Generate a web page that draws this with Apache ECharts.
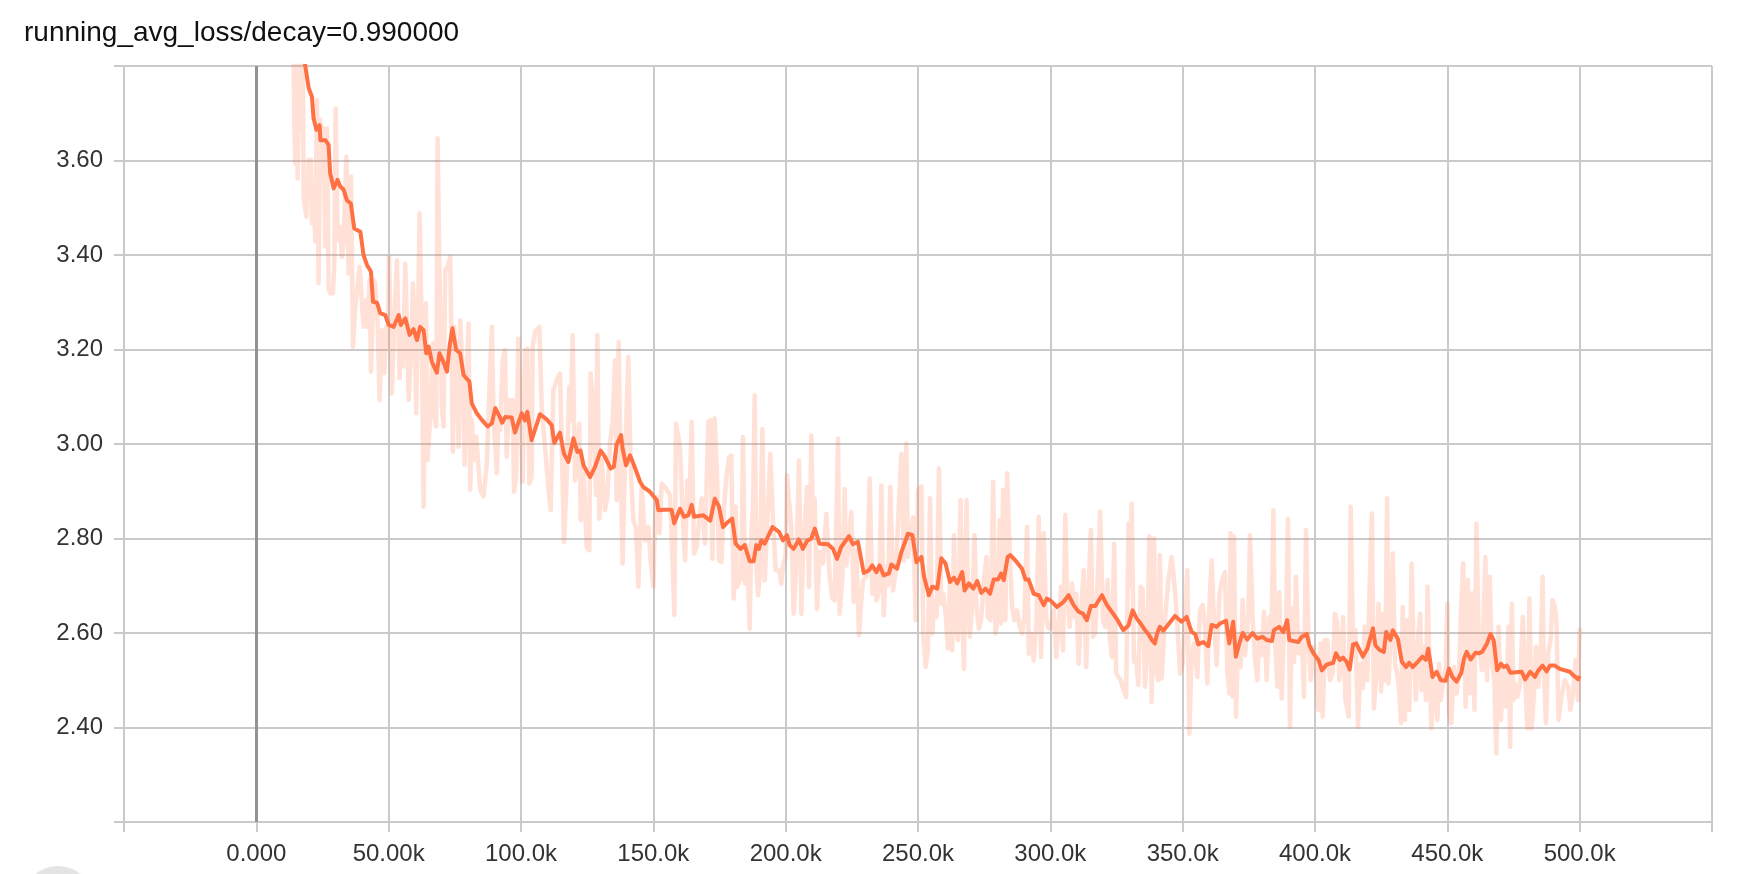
<!DOCTYPE html>
<html><head><meta charset="utf-8">
<script src="https://cdn.jsdelivr.net/npm/echarts@6/dist/echarts.min.js"></script>
<style>html,body{margin:0;padding:0;background:#fff}#c{width:1738px;height:874px}</style>
</head><body><div id="c"></div>
<script>
const chartTitle = 'running_avg_loss/decay=0.990000';
const yTicks = [2.2, 2.4, 2.6, 2.8, 3.0, 3.2, 3.4, 3.6, 3.8];
const xTicksK = [-50, 0, 50, 100, 150, 200, 250, 300, 350, 400, 450, 500, 550];

// smoothed curve: [step (thousands), loss]
const smoothLoss = [
[14,3.98],[16,3.90],[17.5,3.84],[18.5,3.80],[19.8,3.753],[21.0,3.735],[21.6,3.69],[22.7,3.665],[23.9,3.675],[24.2,3.643],[26.1,3.643],[27.3,3.633],[27.9,3.573],[29.2,3.541],[30.7,3.559],[31.7,3.545],[33.0,3.538],[34.2,3.516],[35.7,3.509],[37.0,3.456],[39.3,3.449],[40.5,3.40],[41.8,3.379],[43.3,3.365],[44.1,3.301],[45.6,3.299],[46.8,3.277],[48.7,3.273],[50.0,3.252],[51.9,3.248],[53.8,3.273],[54.6,3.252],[56.3,3.266],[57.9,3.231],[59.4,3.243],[60.7,3.22],[61.9,3.248],[63.2,3.241],[64.2,3.192],[65.1,3.206],[66.3,3.174],[68.2,3.151],[69.2,3.192],[70.7,3.174],[72.0,3.153],[73.0,3.206],[74.1,3.245],[75.5,3.199],[77.0,3.192],[78.3,3.146],[80.5,3.132],[81.4,3.086],[83.3,3.065],[85.2,3.051],[87.4,3.037],[89.0,3.044],[90.3,3.076],[91.9,3.058],[92.9,3.045],
[94.0,3.057],[96.5,3.056],[97.7,3.024],[100.3,3.065],[101.5,3.05],[102.4,3.068],[104.0,3.008],[107.2,3.063],[109.7,3.052],[111.6,3.04],[112.6,3.002],[114.7,3.024],[116.2,2.98],[117.9,2.962],[119.8,3.012],[121.3,2.983],[122.5,2.986],[123.6,2.955],[126.1,2.93],[128.0,2.952],[130.1,2.986],[131.7,2.973],[133.9,2.948],[135.1,2.952],[136.1,2.998],[137.8,3.019],[138.4,2.99],[139.7,2.955],[141.2,2.976],[142.7,2.955],[145.0,2.92],[146.2,2.909],[148.7,2.899],[151.3,2.881],[151.9,2.86],[153.8,2.861],[156.9,2.861],[157.9,2.832],[160.1,2.863],[161.6,2.846],[163.2,2.849],[164.5,2.871],[165.4,2.846],[168.9,2.849],
[171.5,2.838],[173.2,2.884],[174.8,2.868],[176.3,2.824],[178.2,2.835],[179.8,2.842],[181.1,2.789],[182.9,2.778],[184.5,2.786],[186.4,2.752],[187.9,2.752],[188.9,2.786],[189.9,2.778],[190.8,2.796],[192.1,2.789],[195.0,2.824],[197.5,2.814],[199.0,2.796],[200.5,2.807],[201.5,2.786],[203.0,2.778],[205.0,2.798],[206.5,2.778],[208.1,2.795],[209.7,2.8],[211.0,2.821],[212.8,2.789],[216.0,2.788],[217.9,2.778],[219.4,2.757],[221.0,2.782],[223.9,2.805],[225.4,2.788],[227.3,2.793],[229.5,2.727],[231.5,2.733],[232.7,2.743],[234.3,2.729],[235.5,2.743],[237.0,2.722],[239.0,2.726],[239.9,2.745],[242.1,2.736],[243.7,2.771],[246.2,2.81],[247.9,2.807],[249.4,2.75],
[251.3,2.761],[252.3,2.719],[254.1,2.68],[255.4,2.698],[257.3,2.694],[258.8,2.758],[260.4,2.747],[262.1,2.708],[263.6,2.717],[264.8,2.705],[266.7,2.729],[267.6,2.69],[269.2,2.705],[270.9,2.694],[272.4,2.71],[273.9,2.685],[275.5,2.694],[277.2,2.683],[278.6,2.713],[280.2,2.713],[281.4,2.726],[282.4,2.712],[283.9,2.761],[284.9,2.765],[287.2,2.751],[289.3,2.736],[290.6,2.713],[291.8,2.713],[293.7,2.683],[295.6,2.68],[297.5,2.659],[298.7,2.673],[300.0,2.669],[302.5,2.655],[305.0,2.666],[306.9,2.68],[308.8,2.659],[310.7,2.645],[312.3,2.641],[313.8,2.627],[315.3,2.657],[317.0,2.657],[319.5,2.68],[321.4,2.659],[323.2,2.645],[325.1,2.63],[327.6,2.606],[329.5,2.616],
[331.1,2.648],[332.6,2.631],[334.1,2.62],[335.8,2.606],[337.0,2.598],[338.3,2.586],[339.5,2.578],[340.4,2.6],[341.4,2.613],[342.7,2.605],[347.1,2.636],[349.6,2.624],[351.5,2.634],[353.4,2.602],[354.7,2.598],[355.9,2.576],[357.8,2.581],[359.7,2.572],[360.9,2.617],[362.8,2.613],[364.1,2.62],[366.4,2.626],[367.6,2.578],[369.1,2.624],[370.1,2.55],[371.4,2.578],[372.7,2.60],[374.4,2.586],[376.4,2.60],[378.2,2.588],[380.2,2.592],[381.7,2.585],[383.7,2.583],[384.5,2.606],[386.5,2.613],[388.0,2.602],[389.5,2.627],[390.3,2.585],[391.8,2.583],[393.7,2.581],[395.0,2.592],[396.9,2.598],[397.9,2.574],[399.4,2.557],[401.3,2.543],[402.6,2.521],[404.4,2.533],[406.9,2.537],[407.9,2.557],[409.4,2.543],
[410.6,2.548],[411.9,2.539],[413.1,2.523],[414.4,2.576],[415.6,2.578],[418.1,2.55],[419.8,2.567],[421.9,2.61],[422.8,2.574],[424.4,2.564],[426.0,2.56],[426.9,2.602],[428.5,2.585],[429.4,2.606],[431.3,2.588],[432.8,2.539],[434.4,2.528],[435.6,2.537],[436.9,2.528],[438.8,2.539],[440.6,2.55],[441.9,2.543],[442.8,2.567],[444.4,2.507],[446.0,2.518],[447.5,2.50],[449.4,2.499],[450.6,2.525],[451.9,2.507],[453.5,2.497],[455.3,2.516],[456.3,2.546],[457.3,2.56],[458.8,2.544],[460.6,2.558],[461.9,2.557],[463.1,2.56],[465.0,2.578],[466.3,2.598],[467.5,2.585],[468.8,2.521],[470.3,2.535],[471.3,2.528],[472.5,2.531],[473.8,2.516],[478.1,2.518],[479.4,2.502],[481.3,2.518],[483.1,2.507],[484.4,2.521],[486.0,2.531],[487.5,2.519],[488.8,2.531],[490.6,2.531],[492.5,2.524],[496.3,2.518],[497.5,2.511],[499.4,2.502],[500.0,2.509]
];

// raw values: [step (thousands), loss]
const rawLoss = [
[13.85,3.92],[14.35,3.679],[14.73,3.594],[15.10,3.85],[15.61,3.562],[16.36,3.82],[16.87,3.665],[17.62,3.81],[17.87,3.523],[18.88,3.481],[19.76,3.601],[20.64,3.601],[21.02,3.467],[21.65,3.516],[22.28,3.428],[22.91,3.728],[23.54,3.34],[24.17,3.686],[24.80,3.643],[25.43,3.668],[26.06,3.418],[26.69,3.668],[27.32,3.326],[27.94,3.319],[28.95,3.319],[29.46,3.382],[29.96,3.71],[30.71,3.432],[31.47,3.46],[32.35,3.396],[32.98,3.432],[33.99,3.608],[34.87,3.361],[35.75,3.566],[36.51,3.206],[37.39,3.291],[39.02,3.375],[39.90,3.298],[40.53,3.248],[41.54,3.305],[42.04,3.248],[42.80,3.347],[43.30,3.153],[44.31,3.347],[44.94,3.34],[45.82,3.255],[46.57,3.093],[47.46,3.241],[48.34,3.15],[49.09,3.248],[49.60,3.206],[50.10,3.396],[50.86,3.227],[51.23,3.107],[52.11,3.248],[53.12,3.389],[54.13,3.139],[54.63,3.262],[55.39,3.164],[56.27,3.382],[56.90,3.255],[57.53,3.093],[58.53,3.195],[59.16,3.34],[59.79,3.262],[60.42,3.065],[61.05,3.262],[61.68,3.488],[62.56,3.213],[63.19,2.867],[64.07,3.298],[64.70,2.966],[65.71,3.058],[66.72,3.213],[67.22,3.058],[67.97,3.037],[68.48,3.647],[69.23,3.354],[70.11,3.079],[70.74,3.037],[71.37,3.368],[72.25,3.375],[73.26,3.396],[74.27,2.984],[74.77,3.248],[75.53,3.185],[76.41,2.994],[77.04,3.262],[78.04,3.143],[78.67,2.956],[79.30,3.107],[80.19,3.255],[80.81,2.903],[81.44,3.051],[82.07,2.966],[83.08,3.016],[84.59,2.903],[85.85,2.889],[87.11,2.959],[88.12,3.128],[89.00,3.248],[89.63,3.058],[90.88,2.938],[91.51,3.065],
[92.07,3.029],[93.08,3.177],[93.96,3.199],[94.59,2.973],[95.59,3.093],[96.10,3.068],[96.85,3.093],[97.36,2.899],[98.11,2.93],[98.99,3.223],[99.88,3.064],[100.63,2.92],[101.51,3.199],[102.40,3.202],[103.15,2.916],[104.03,2.93],[104.41,3.206],[105.29,3.237],[106.93,3.248],[107.81,3.079],[109.07,2.994],[110.33,2.909],[111.21,2.86],[112.22,3.114],[113.48,3.135],[114.74,3.149],[116.25,2.793],[117.00,2.888],[118.26,3.121],[118.77,3.05],[119.52,3.23],[120.40,2.923],[121.29,2.966],[122.04,3.043],[122.55,2.839],[123.55,2.962],[124.81,2.782],[125.82,2.775],[126.32,3.149],[127.33,3.079],[128.34,2.892],[128.84,3.23],[129.60,2.842],[130.48,2.966],[131.74,2.86],[132.62,2.888],[133.63,3.001],[134.64,3.05],[135.52,3.177],[136.15,2.881],[136.90,3.216],[137.66,2.937],[138.41,2.747],[139.30,2.966],[140.56,3.184],[141.44,2.952],[142.44,2.839],[143.45,2.821],[144.33,2.698],[145.59,2.909],[146.85,2.796],[148.11,2.825],[148.99,2.754],[150.00,2.698],[150.63,2.839],[151.26,2.888],[152.27,2.811],[153.15,2.916],[154.41,2.909],[156.30,2.892],[157.30,2.747],[157.94,2.638],[158.57,3.043],[160.08,2.994],[161.08,2.846],[161.97,2.754],[162.85,2.923],[163.60,2.86],[164.48,3.047],[165.37,2.768],[166.37,2.782],[167.38,2.839],[168.26,2.885],[169.52,2.789],[170.78,3.047],
[171.54,3.050],[172.30,2.757],[173.18,3.054],[174.06,2.934],[174.81,2.754],[175.70,2.750],[176.58,2.852],[177.58,2.930],[178.59,2.972],[179.47,2.976],[180.36,2.673],[181.11,2.867],[181.62,2.697],[182.37,2.694],[183.25,2.718],[183.88,3.015],[184.64,2.704],[185.39,2.785],[186.40,2.609],[187.03,2.807],[187.66,2.867],[188.29,3.103],[188.92,2.740],[189.55,2.680],[190.18,2.718],[191.19,3.032],[192.07,2.711],[192.70,2.785],[194.21,2.979],[195.22,2.838],[196.22,2.733],[197.48,2.733],[198.37,2.704],[198.99,2.743],[200.00,2.764],[200.51,2.934],[201.26,2.881],[202.14,2.824],[203.03,2.641],[204.03,2.750],[205.04,2.965],[205.92,2.641],[206.55,2.768],[207.56,2.860],[208.06,2.909],[208.82,2.697],[209.70,3.018],[210.33,2.824],[210.96,2.884],[211.84,2.651],[212.85,2.771],[214.11,2.747],[215.37,2.852],[216.63,2.718],[217.63,2.673],[218.52,2.669],[219.78,3.011],[220.40,2.641],[221.41,2.718],[222.29,2.905],[222.92,2.743],[223.93,2.800],[224.81,2.856],[225.70,2.666],[226.70,2.775],[227.71,2.595],[228.59,2.669],[229.22,2.711],[230.73,2.722],[231.74,2.927],[232.75,2.683],[233.63,2.729],[234.26,2.669],[235.27,2.687],[236.15,2.912],[237.03,2.637],[237.79,2.740],[238.67,2.701],[239.55,2.909],[240.56,2.690],[241.56,2.729],[242.45,2.831],[243.70,2.979],[244.59,2.754],[245.59,3.001],[246.22,2.761],[247.11,2.803],[248.11,2.845],[249.12,2.627],[250.00,2.902],
[251.26,2.910],[252.01,2.592],[252.89,2.528],[253.77,2.563],[254.53,2.885],[255.41,2.599],[256.29,2.669],[257.04,2.634],[257.92,2.948],[258.80,2.662],[259.55,2.683],[260.43,2.641],[261.31,2.567],[262.06,2.712],[262.94,2.563],[263.57,2.807],[264.20,2.627],[265.08,2.585],[266.08,2.881],[266.71,2.655],[267.34,2.524],[268.35,2.881],[268.85,2.683],[269.60,2.592],[270.48,2.655],[271.36,2.807],[272.11,2.655],[272.99,2.609],[273.87,2.627],[274.88,2.712],[275.88,2.761],[276.39,2.634],[277.39,2.627],[278.40,2.920],[279.28,2.599],[280.16,2.634],[280.91,2.839],[281.41,2.620],[282.16,2.903],[283.04,2.627],[283.67,2.938],[284.68,2.768],[285.56,2.655],[286.44,2.627],[287.44,2.648],[288.45,2.613],[289.33,2.599],[290.21,2.634],[291.21,2.825],[291.84,2.556],[292.72,2.599],[293.72,2.542],[294.73,2.620],[295.61,2.846],[296.49,2.549],[297.49,2.811],[298.50,2.627],[299.38,2.609],[300.26,2.613],[301.26,2.648],[302.27,2.549],[303.15,2.613],[304.03,2.698],[304.78,2.563],[305.66,2.850],[306.29,2.691],[307.29,2.613],[308.17,2.705],[309.05,2.634],[309.80,2.683],[310.68,2.535],[311.56,2.634],[312.57,2.733],[313.57,2.528],[314.45,2.698],[315.33,2.818],[316.08,2.592],[316.97,2.599],[317.85,2.705],[318.85,2.857],[319.86,2.627],[320.74,2.613],[321.61,2.712],[322.37,2.599],[323.25,2.549],[324.12,2.789],[324.88,2.514],[325.76,2.507],[326.64,2.500],[327.64,2.478],[328.65,2.464],[329.53,2.832],
[330.10,2.698],[330.73,2.874],[331.61,2.539],[332.37,2.550],[333.25,2.490],[334.13,2.698],[334.88,2.691],[335.77,2.486],[336.65,2.571],[337.40,2.804],[338.28,2.454],[339.17,2.800],[339.92,2.518],[340.80,2.500],[341.43,2.765],[342.06,2.504],[343.32,2.627],[344.58,2.712],[345.84,2.761],[347.10,2.691],[347.98,2.620],[348.99,2.514],[350.00,2.535],[350.88,2.627],[351.76,2.733],[352.52,2.387],[353.40,2.550],[354.28,2.578],[355.54,2.507],[356.55,2.648],[357.55,2.659],[358.44,2.613],[359.32,2.493],[360.07,2.655],[360.95,2.754],[361.84,2.627],[362.84,2.532],[363.85,2.680],[364.73,2.708],[365.99,2.729],[366.87,2.521],[367.63,2.472],[368.13,2.811],[368.89,2.465],[369.39,2.804],[370.15,2.423],[371.03,2.595],[371.91,2.528],[372.67,2.670],[373.55,2.553],[374.81,2.634],[375.44,2.807],[376.44,2.631],[377.33,2.546],[378.21,2.500],[378.96,2.599],[379.85,2.553],[380.73,2.645],[381.73,2.500],[382.74,2.634],[383.62,2.606],[384.25,2.860],[385.01,2.571],[385.76,2.486],[386.52,2.687],[387.40,2.461],[388.28,2.613],[389.04,2.613],[389.79,2.842],[390.55,2.401],[391.31,2.652],[392.06,2.539],[392.82,2.719],[393.70,2.557],[394.96,2.599],[395.84,2.465],[396.60,2.818],[397.48,2.592],[398.36,2.500],[399.37,2.571],[400.37,2.518],[401.26,2.437],[402.14,2.578],[402.90,2.423],[403.78,2.585],[404.66,2.585],[405.66,2.500],[406.67,2.514],[407.55,2.641],[408.43,2.620],[409.19,2.500],
[410.00,2.543],[410.63,2.634],[411.50,2.458],[412.25,2.437],[412.75,2.423],[413.50,2.867],[414.38,2.571],[415.25,2.606],[416.25,2.401],[417.25,2.535],[418.13,2.483],[418.75,2.613],[419.75,2.500],[420.63,2.698],[421.50,2.853],[422.25,2.440],[423.13,2.507],[424.00,2.662],[425.00,2.476],[425.63,2.641],[426.50,2.500],[427.25,2.885],[427.75,2.493],[428.75,2.613],[429.38,2.768],[430.25,2.535],[431.25,2.507],[431.88,2.472],[432.50,2.409],[433.13,2.655],[434.00,2.416],[434.75,2.627],[435.63,2.437],[436.50,2.747],[437.25,2.557],[438.13,2.458],[439.00,2.592],[439.75,2.641],[440.25,2.479],[441.25,2.571],[441.88,2.458],[442.50,2.698],[443.25,2.528],[444.00,2.398],[444.75,2.500],[445.63,2.465],[446.25,2.416],[446.88,2.535],[447.50,2.458],[448.50,2.500],[449.38,2.528],[450.00,2.662],[450.63,2.430],[451.50,2.409],[452.50,2.528],[453.50,2.472],[454.38,2.511],[455.25,2.662],[456.00,2.747],[456.88,2.444],[457.75,2.712],[458.50,2.472],[459.38,2.684],[460.25,2.437],[461.00,2.832],[461.88,2.578],[463.13,2.521],[464.38,2.761],[465.00,2.500],[466.00,2.719],[466.88,2.535],[467.75,2.500],[468.50,2.345],[469.38,2.613],[470.25,2.416],[471.25,2.528],[472.25,2.444],[473.13,2.613],[473.75,2.359],[474.38,2.662],[475.00,2.458],[475.63,2.493],[476.50,2.465],[477.50,2.493],[478.50,2.634],[479.38,2.507],[480.25,2.398],[481.00,2.673],[481.88,2.398],[482.75,2.472],[483.50,2.571],[484.38,2.486],[485.25,2.557],[486.00,2.719],[486.50,2.514],[487.25,2.409],[488.13,2.557],[489.00,2.585],[489.75,2.670],[490.63,2.655],[491.25,2.624],[492.00,2.416],[493.13,2.465],[494.38,2.500],[495.63,2.486],[496.50,2.437],[497.50,2.472],[498.50,2.543],[499.38,2.458],[500.00,2.610]
];

const FONT = '"Liberation Sans", Arial, sans-serif';
const GRID_COLOR = '#cacaca';
const chart = echarts.init(document.getElementById('c'), null, {renderer: 'canvas'});

function fmtX(v) {
  if (v === 0) return '0.000';
  if (v < 0 || v > 500000) return '';
  return (v / 1000).toPrecision(4) + 'k';
}
function fmtY(v) {
  const r = Math.round(v * 100) / 100;
  if (r <= yTicks[0] + 1e-9 || r >= yTicks[yTicks.length - 1] - 1e-9) return '';
  return r.toFixed(2);
}

chart.setOption({
  animation: false,
  backgroundColor: '#ffffff',
  grid: {left: 124, right: 26, top: 66, bottom: 52, containLabel: false},
  graphic: [
    {type: 'text', left: 24, top: 19, z: 10,
     style: {text: chartTitle, font: '28px ' + FONT, fill: '#111111'}},
    {type: 'circle', shape: {cx: 58, cy: 902, r: 36}, style: {fill: '#e4e4e4'}, z: 10}
  ],
  xAxis: {
    type: 'value',
    min: xTicksK[0] * 1000, max: xTicksK[xTicksK.length - 1] * 1000, interval: 50000,
    axisLine: {show: true, onZero: false, lineStyle: {color: GRID_COLOR, width: 2}},
    axisTick: {show: true, length: 10, lineStyle: {color: GRID_COLOR, width: 2}},
    axisLabel: {show: true, margin: 20, formatter: fmtX, color: '#333333', fontSize: 24, fontFamily: FONT,
                showMinLabel: true, showMaxLabel: true},
    splitLine: {show: true, lineStyle: {color: GRID_COLOR, width: 2}}
  },
  yAxis: {
    type: 'value',
    min: yTicks[0], max: yTicks[yTicks.length - 1], interval: 0.2,
    axisLine: {show: true, onZero: false, lineStyle: {color: GRID_COLOR, width: 2}},
    axisTick: {show: true, length: 10, lineStyle: {color: GRID_COLOR, width: 2}},
    axisLabel: {show: true, margin: 21, formatter: fmtY, color: '#333333', fontSize: 24, fontFamily: FONT,
                showMinLabel: true, showMaxLabel: true},
    splitLine: {show: true, lineStyle: {color: GRID_COLOR, width: 2}}
  },
  series: [
    {
      type: 'line', name: 'raw', symbol: 'none', silent: true, z: 2,
      data: rawLoss.map(p => [p[0] * 1000, p[1]]),
      lineStyle: {color: 'rgba(255,112,67,0.21)', width: 4.5, join: 'round'},
      clip: true
    },
    {
      type: 'line', name: 'smoothed', symbol: 'none', silent: true, z: 3,
      data: smoothLoss.map(p => [p[0] * 1000, p[1]]),
      lineStyle: {color: '#ff7043', width: 4, join: 'round'},
      clip: true,
      markLine: {
        silent: true, symbol: ['none', 'none'], label: {show: false},
        lineStyle: {color: '#939393', width: 3, type: 'solid'},
        data: [{xAxis: 0}]
      }
    }
  ]
});
</script>
</body></html>
